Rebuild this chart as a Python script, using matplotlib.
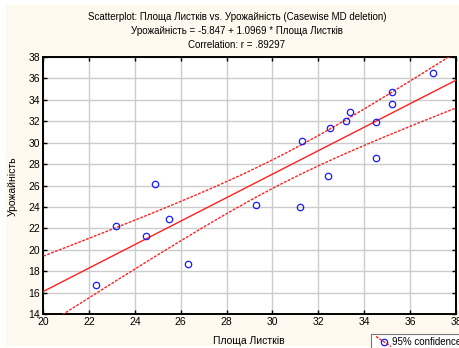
import numpy as np
import matplotlib
matplotlib.use("Agg")
import matplotlib.pyplot as plt
from matplotlib.patches import Rectangle
from matplotlib.lines import Line2D

plt.rcParams['font.family'] = ['Liberation Sans', 'DejaVu Sans']

# Data
leaf_area = [22.3, 23.2, 24.5, 24.9, 25.5, 26.3, 29.3, 31.2, 31.3, 32.4,
             32.5, 33.2, 33.4, 34.5, 34.5, 35.2, 35.2, 37.0]
yield_vals = [16.7, 22.2, 21.3, 26.1, 22.9, 18.7, 24.2, 24.0, 30.2, 26.9,
              31.4, 32.0, 32.9, 31.9, 28.6, 34.7, 33.6, 36.5]
intercept = -5.847
slope = 1.0969
t_crit = 2.12  # t(0.975, df=16)

title_lines = ["Scatterplot: Площа Листків vs. Урожайність (Casewise MD deletion)",
               "Урожайність = -5.847 + 1.0969 * Площа Листків",
               "Correlation: r = .89297"]
x_ticks = [20, 22, 24, 26, 28, 30, 32, 34, 36, 38]
y_ticks = [14, 16, 18, 20, 22, 24, 26, 28, 30, 32, 34, 36, 38]
x_label = "Площа Листків"
y_label = "Урожайність"
legend_label = "95% confidence"

W, H = 460, 348
fig = plt.figure(figsize=(W / 100, H / 100), dpi=100, facecolor='white')

# cream background panel
bg = Rectangle((6 / W, 2 / H), 1, (H - 7) / H, transform=fig.transFigure,
               facecolor='#fdf9ee', edgecolor='none', zorder=-10)
fig.patches.append(bg)

ax = fig.add_axes([43 / W, (H - 314) / H, (456 - 43) / W, (314 - 57) / H])
ax.set_facecolor('white')

x = np.array(leaf_area)
y = np.array(yield_vals)
n = len(x)
xs = np.linspace(19, 39, 200)
fit = intercept + slope * xs
res = y - (intercept + slope * x)
s = np.sqrt(np.sum(res ** 2) / (n - 2))
sxx = np.sum((x - x.mean()) ** 2)
half = t_crit * s * np.sqrt(1 / n + (xs - x.mean()) ** 2 / sxx)

ax.plot(xs, fit, color='#ff2020', lw=1.0, zorder=3)
ax.plot(xs, fit + half, color='#ff2020', lw=1.0, ls=(0, (2, 1)), zorder=3)
ax.plot(xs, fit - half, color='#ff2020', lw=1.0, ls=(0, (2, 1)), zorder=3)
ax.plot(x, y, 'o', mfc='none', mec='#1a1aff', mew=0.9, ms=4.6, zorder=4)

ax.set_xlim(20, 38)
ax.set_ylim(14, 38)
ax.set_xticks(x_ticks)
ax.set_yticks(y_ticks)
ax.grid(True, color='#cccccc', lw=1.0, zorder=0)
ax.set_axisbelow(True)
ax.tick_params(direction='in', length=3, width=1, top=True, right=True,
               labelsize=7.5, pad=2, colors='black')
for sp in ax.spines.values():
    sp.set_linewidth(1.4)
    sp.set_color('black')

fig.text(249 / W, 1 - 341 / H, x_label, ha='center', va='center', fontsize=7.5)
fig.text(13 / W, 1 - 186 / H, y_label, ha='center', va='center', fontsize=7.5,
         rotation=90)

for i, line in enumerate(title_lines):
    fig.text(237 / W, 1 - (17 + 14 * i) / H, line, ha='center', va='center',
             fontsize=7.0)

# legend box (cut at right edge)
leg = Rectangle((371 / W, (H - 349) / H), 100 / W, 15 / H, transform=fig.transFigure,
                facecolor='white', edgecolor='#777777', lw=0.8, zorder=5)
fig.patches.append(leg)
fig.lines.append(Line2D([376 / W, 391 / W], [1 - 336.5 / H, 1 - 346.5 / H],
                        transform=fig.transFigure, color='#ff2020', lw=1.0,
                        ls=(0, (2, 1)), zorder=6))
fig.lines.append(Line2D([384 / W], [1 - 341.5 / H], transform=fig.transFigure,
                        marker='o', mfc='none', mec='#1a1aff', mew=0.9, ms=4.6,
                        zorder=7))
fig.text(392 / W, 1 - 342 / H, legend_label, ha='left', va='center', fontsize=7.0,
         zorder=8)

fig.savefig('out.png', dpi=100, facecolor='white')
